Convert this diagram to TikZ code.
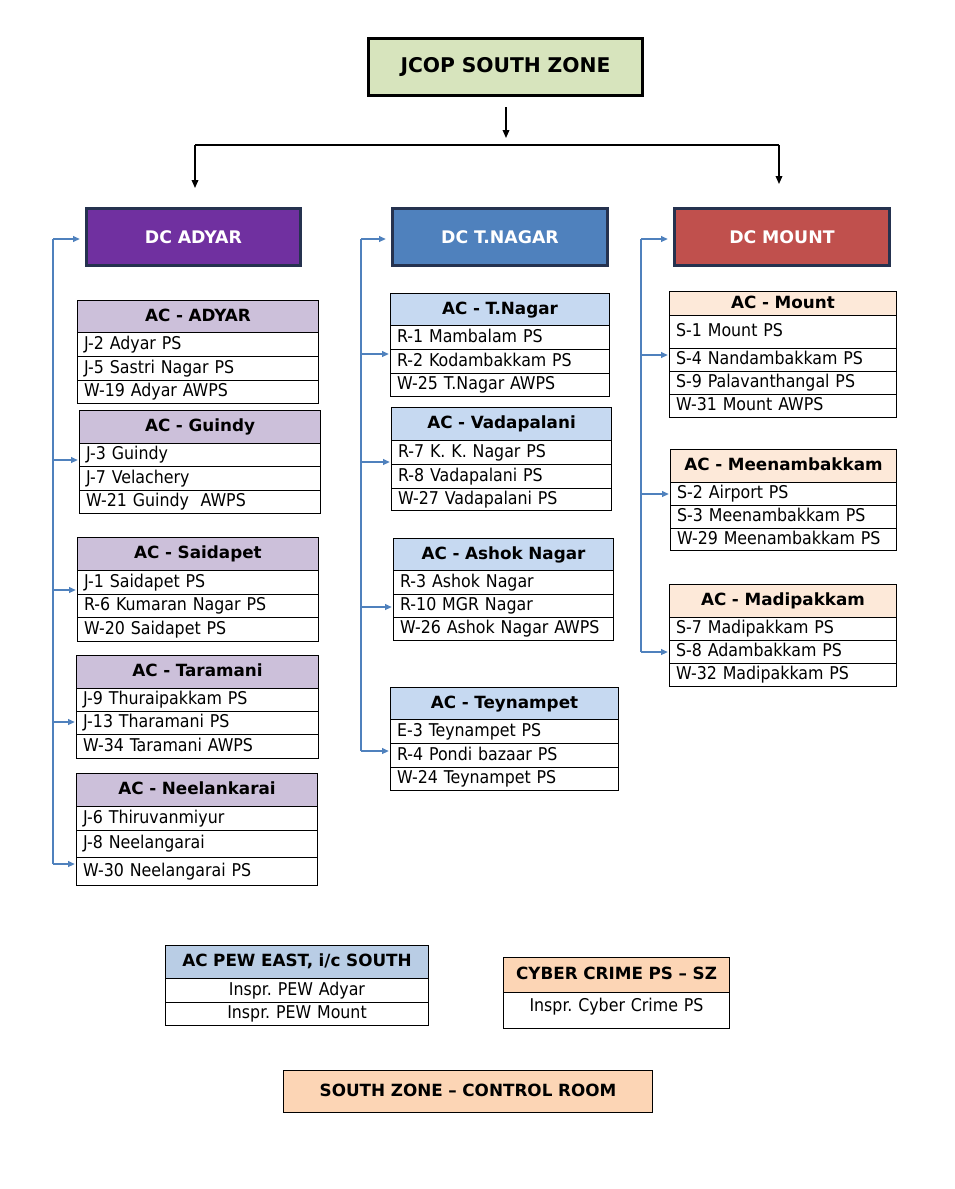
\documentclass[tikz,border=0pt]{standalone}
\usepackage{fontspec}
\setmainfont{DejaVu Sans Condensed}
\newfontfamily\widefont{DejaVu Sans}[Ligatures=TeX]
\frenchspacing
\usetikzlibrary{arrows.meta}
\definecolor{topgreen}{HTML}{D7E4BD}
\definecolor{dcpurple}{HTML}{7030A0}
\definecolor{dcblue}{HTML}{4F81BD}
\definecolor{dcred}{HTML}{C0504D}
\definecolor{dcborder}{HTML}{25324F}
\definecolor{hdrlav}{HTML}{CCC0DA}
\definecolor{hdrblue}{HTML}{C6D9F1}
\definecolor{hdrpeach}{HTML}{FDE9D9}
\definecolor{hdrpew}{HTML}{B9CDE5}
\definecolor{hdrorange}{HTML}{FCD5B5}
\definecolor{linkblue}{HTML}{4F81BD}
\newcommand\rowfont{\fontsize{13.2pt}{15pt}\selectfont}
\newcommand\hdrfont{\widefont\bfseries\fontsize{12.6pt}{15pt}\selectfont}
\newcommand\mkcell[7]{%
 \pgfmathsetmacro\cw{(#4-#2)*0.75}%
 \pgfmathsetmacro\ch{(#5-#3)*0.75}%
 \pgfmathsetmacro\tw{(#4-#2)*0.75-10}%
 \node[#6, minimum width=\cw pt, minimum height=\ch pt, text width=\tw pt, anchor=north west] (#1) at (#2,#3) {#7};}
\tikzset{
 cellbase/.style={draw=black, line width=0.75pt, inner xsep=5pt, inner ysep=0pt, text height=9.6pt, text depth=2.8pt, font=\rowfont},
 hdrA/.style={cellbase, fill=hdrlav, font=\hdrfont, align=center},
 hdrB/.style={cellbase, fill=hdrblue, font=\hdrfont, align=center},
 hdrC/.style={cellbase, fill=hdrpeach, font=\hdrfont, align=center},
 hdrP/.style={cellbase, fill=hdrpew, font=\hdrfont, align=center},
 hdrO/.style={cellbase, fill=hdrorange, font=\hdrfont, align=center},
 rowl/.style={cellbase, fill=white, align=left},
 rowc/.style={cellbase, fill=white, align=center},
 topbox/.style={draw=black, line width=2.2pt, fill=topgreen, inner sep=0pt, align=center, font=\widefont\bfseries\fontsize{15.2pt}{18pt}\selectfont},
 dcbox/.style={draw=dcborder, line width=2.2pt, inner sep=0pt, align=center, text=white, font=\widefont\bfseries\fontsize{13pt}{15pt}\selectfont},
 blkline/.style={draw=black, line width=1pt},
 blkarrow/.style={blkline, -{Triangle[length=6pt,width=5pt]}},
 blueline/.style={draw=linkblue, line width=1pt},
 bluearrow/.style={blueline, -{Triangle[length=5pt,width=4.5pt]}}
}
\begin{document}
\begin{tikzpicture}[x=0.75pt,y=-0.75pt]
\useasboundingbox[fill=white] (0,0) rectangle (955,1189);

% top
\mkcell{top}{367}{37}{641}{94}{topbox}{JCOP SOUTH ZONE}
\coordinate (tA) at (506,107);
\coordinate (tB) at (506,138);
\draw[blkarrow] (tA) -- (tB);
\coordinate (busL) at (195,145);
\coordinate (busR) at (779,145);
\coordinate (aL) at (195,188);
\coordinate (aR) at (779,184);
\draw[blkline] (busL) -- (busR);
\draw[blkarrow] (busL) -- (aL);
\draw[blkarrow] (busR) -- (aR);

% DC boxes
\mkcell{dcA}{85}{207}{299}{264}{dcbox, fill=dcpurple}{DC ADYAR}
\mkcell{dcT}{391}{207}{606}{264}{dcbox, fill=dcblue}{DC T.NAGAR}
\mkcell{dcM}{673}{207}{888}{264}{dcbox, fill=dcred}{DC MOUNT}

% ---------- left column ----------
\mkcell{a1h}{77}{300}{318}{332}{hdrA}{AC - ADYAR}
\mkcell{a1r1}{77}{332}{318}{356}{rowl}{J-2 Adyar PS}
\mkcell{a1r2}{77}{356}{318}{380}{rowl}{J-5 Sastri Nagar PS}
\mkcell{a1r3}{77}{380}{318}{403}{rowl}{W-19 Adyar AWPS}

\mkcell{a2h}{79}{410}{320}{443}{hdrA}{AC - Guindy}
\mkcell{a2r1}{79}{443}{320}{466}{rowl}{J-3 Guindy}
\mkcell{a2r2}{79}{466}{320}{490}{rowl}{J-7 Velachery}
\mkcell{a2r3}{79}{490}{320}{513}{rowl}{W-21 Guindy\ \ AWPS}

\mkcell{a3h}{77}{537}{318}{570}{hdrA}{AC - Saidapet}
\mkcell{a3r1}{77}{570}{318}{594}{rowl}{J-1 Saidapet PS}
\mkcell{a3r2}{77}{594}{318}{617}{rowl}{R-6 Kumaran Nagar PS}
\mkcell{a3r3}{77}{617}{318}{641}{rowl}{W-20 Saidapet PS}

\mkcell{a4h}{76}{655}{318}{688}{hdrA}{AC - Taramani}
\mkcell{a4r1}{76}{688}{318}{711}{rowl}{J-9 Thuraipakkam PS}
\mkcell{a4r2}{76}{711}{318}{734}{rowl}{J-13 Tharamani PS}
\mkcell{a4r3}{76}{734}{318}{758}{rowl}{W-34 Taramani AWPS}

\mkcell{a5h}{76}{773}{317}{806}{hdrA}{AC - Neelankarai}
\mkcell{a5r1}{76}{806}{317}{830}{rowl}{J-6 Thiruvanmiyur}
\mkcell{a5r2}{76}{830}{317}{857}{rowl}{J-8 Neelangarai}
\mkcell{a5r3}{76}{857}{317}{885}{rowl}{W-30 Neelangarai PS}

% ---------- middle column ----------
\mkcell{b1h}{390}{293}{609}{325}{hdrB}{AC - T.Nagar}
\mkcell{b1r1}{390}{325}{609}{349}{rowl}{R-1 Mambalam PS}
\mkcell{b1r2}{390}{349}{609}{373}{rowl}{R-2 Kodambakkam PS}
\mkcell{b1r3}{390}{373}{609}{396}{rowl}{W-25 T.Nagar AWPS}

\mkcell{b2h}{391}{407}{611}{440}{hdrB}{AC - Vadapalani}
\mkcell{b2r1}{391}{440}{611}{464}{rowl}{R-7 K. K. Nagar PS}
\mkcell{b2r2}{391}{464}{611}{488}{rowl}{R-8 Vadapalani PS}
\mkcell{b2r3}{391}{488}{611}{510}{rowl}{W-27 Vadapalani PS}

\mkcell{b3h}{393}{538}{613}{570}{hdrB}{AC - Ashok Nagar}
\mkcell{b3r1}{393}{570}{613}{594}{rowl}{R-3 Ashok Nagar}
\mkcell{b3r2}{393}{594}{613}{617}{rowl}{R-10 MGR Nagar}
\mkcell{b3r3}{393}{617}{613}{640}{rowl}{W-26 Ashok Nagar AWPS}

\mkcell{b4h}{390}{687}{618}{719}{hdrB}{AC - Teynampet}
\mkcell{b4r1}{390}{719}{618}{743}{rowl}{E-3 Teynampet PS}
\mkcell{b4r2}{390}{743}{618}{767}{rowl}{R-4 Pondi bazaar PS}
\mkcell{b4r3}{390}{767}{618}{790}{rowl}{W-24 Teynampet PS}

% ---------- right column ----------
\mkcell{c1h}{669}{291}{896}{315}{hdrC}{AC - Mount}
\mkcell{c1r1}{669}{315}{896}{348}{rowl}{S-1 Mount PS}
\mkcell{c1r2}{669}{348}{896}{371}{rowl}{S-4 Nandambakkam PS}
\mkcell{c1r3}{669}{371}{896}{394}{rowl}{S-9 Palavanthangal PS}
\mkcell{c1r4}{669}{394}{896}{417}{rowl}{W-31 Mount AWPS}

\mkcell{c2h}{670}{449}{896}{482}{hdrC}{AC - Meenambakkam}
\mkcell{c2r1}{670}{482}{896}{505}{rowl}{S-2 Airport PS}
\mkcell{c2r2}{670}{505}{896}{528}{rowl}{S-3 Meenambakkam PS}
\mkcell{c2r3}{670}{528}{896}{550}{rowl}{W-29 Meenambakkam PS}

\mkcell{c3h}{669}{584}{896}{617}{hdrC}{AC - Madipakkam}
\mkcell{c3r1}{669}{617}{896}{640}{rowl}{S-7 Madipakkam PS}
\mkcell{c3r2}{669}{640}{896}{663}{rowl}{S-8 Adambakkam PS}
\mkcell{c3r3}{669}{663}{896}{686}{rowl}{W-32 Madipakkam PS}

% ---------- bottom ----------
\mkcell{ph}{165}{945}{428}{978}{hdrP}{AC PEW EAST, i/c SOUTH}
\mkcell{pr1}{165}{978}{428}{1002}{rowc}{Inspr. PEW Adyar}
\mkcell{pr2}{165}{1002}{428}{1025}{rowc}{Inspr. PEW Mount}

\mkcell{cyh}{503}{957}{729}{992}{hdrO}{CYBER CRIME PS – SZ}
\mkcell{cyr}{503}{992}{729}{1028}{rowc}{\raisebox{3pt}{Inspr. Cyber Crime PS}}

\mkcell{ctrl}{283}{1070}{652}{1112}{hdrO}{SOUTH ZONE – CONTROL ROOM}

% ---------- blue connectors ----------
\coordinate (lT) at (53,239);
\coordinate (lB) at (53,864);
\draw[blueline] (lT) -- (lB);
\coordinate (yA2) at (0,460);
\coordinate (yA3) at (0,590);
\coordinate (yA4) at (0,722);
\coordinate (yA5) at (0,864);
\draw[bluearrow, shorten >=4pt] (lT) -- (dcA.west |- lT);
\draw[bluearrow, shorten >=1pt] (lT |- yA2) -- (a2r1.west |- yA2);
\draw[bluearrow, shorten >=1pt] (lT |- yA3) -- (a3r1.west |- yA3);
\draw[bluearrow, shorten >=1pt] (lT |- yA4) -- (a4r2.west |- yA4);
\draw[bluearrow, shorten >=1pt] (lT |- yA5) -- (a5r3.west |- yA5);

\coordinate (mT) at (361,239);
\coordinate (mB) at (361,751);
\draw[blueline] (mT) -- (mB);
\coordinate (yB1) at (0,354);
\coordinate (yB2) at (0,462);
\coordinate (yB3) at (0,607);
\coordinate (yB4) at (0,751);
\draw[bluearrow, shorten >=4pt] (mT) -- (dcT.west |- mT);
\draw[bluearrow, shorten >=1pt] (mT |- yB1) -- (b1r2.west |- yB1);
\draw[bluearrow, shorten >=1pt] (mT |- yB2) -- (b2r1.west |- yB2);
\draw[bluearrow, shorten >=1pt] (mT |- yB3) -- (b3r2.west |- yB3);
\draw[bluearrow, shorten >=1pt] (mT |- yB4) -- (b4r2.west |- yB4);

\coordinate (rT) at (641,239);
\coordinate (rB) at (641,652);
\draw[blueline] (rT) -- (rB);
\coordinate (yC1) at (0,355);
\coordinate (yC2) at (0,494);
\coordinate (yC3) at (0,652);
\draw[bluearrow, shorten >=4pt] (rT) -- (dcM.west |- rT);
\draw[bluearrow, shorten >=1pt] (rT |- yC1) -- (c1r2.west |- yC1);
\draw[bluearrow, shorten >=1pt] (rT |- yC2) -- (c2r1.west |- yC2);
\draw[bluearrow, shorten >=1pt] (rT |- yC3) -- (c3r2.west |- yC3);
\end{tikzpicture}
\end{document}
